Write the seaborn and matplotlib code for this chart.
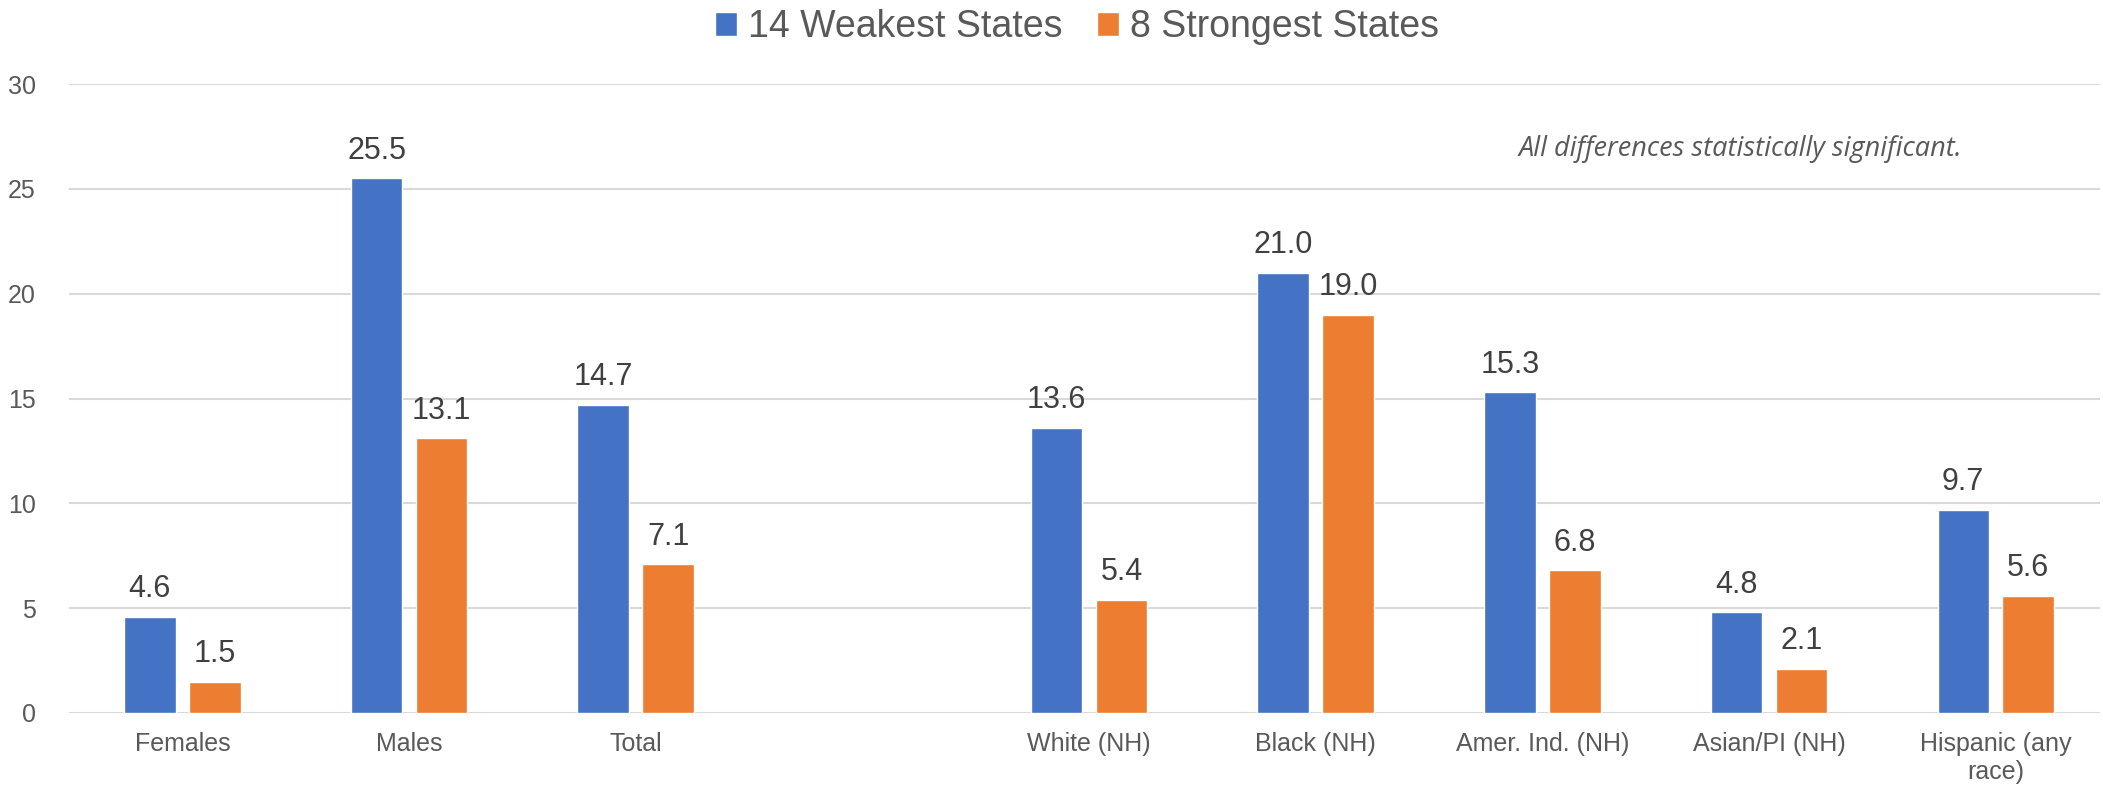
import numpy as np
import pandas as pd
import matplotlib
matplotlib.use("Agg")
import matplotlib.pyplot as plt
import seaborn as sns

# data
categories = ["Females", "Males", "Total", " ", "White (NH)", "Black (NH)",
              "Amer. Ind. (NH)", "Asian/PI (NH)", "Hispanic (any\nrace)"]
data_categories = ["Females", "Males", "Total", "White (NH)", "Black (NH)",
                   "Amer. Ind. (NH)", "Asian/PI (NH)", "Hispanic (any\nrace)"]
weakest = [4.6, 25.5, 14.7, 13.6, 21.0, 15.3, 4.8, 9.7]
strongest = [1.5, 13.1, 7.1, 5.4, 19.0, 6.8, 2.1, 5.6]
series = ["14 Weakest States", "8 Strongest States"]
colors = ["#4472C4", "#ED7D31"]

df = pd.DataFrame({
    "category": data_categories * 2,
    "value": weakest + strongest,
    "series": [series[0]] * len(weakest) + [series[1]] * len(strongest),
})

sns.set_style("white")
plt.rcParams["font.family"] = ["Liberation Sans", "DejaVu Sans"]

W, H = 2103, 788
fig = plt.figure(figsize=(W / 100, H / 100), dpi=100)
ax = fig.add_axes([69 / W, 1 - 713 / H, (2100 - 69) / W, (713 - 84) / H])

sns.barplot(data=df, x="category", y="value", hue="series", order=categories,
            hue_order=series, palette=colors, width=0.5734, gap=0.208,
            saturation=1, ax=ax, legend=True)

for cont in ax.containers:
    ax.bar_label(cont, fmt="%.1f", padding=9, fontsize=22, color="#404040")

ax.set_ylim(0, 30)
ax.set_xlim(-0.5, 8.46)
ax.set_yticks(np.arange(0, 31, 5))
ax.yaxis.grid(True, color="#D9D9D9", linewidth=1.5)
ax.set_axisbelow(True)
for s in ax.spines.values():
    s.set_visible(False)
ax.tick_params(axis="both", length=0, labelsize=18, labelcolor="#595959")
ax.tick_params(axis="x", pad=14)
ax.tick_params(axis="y", pad=24)
ax.set_xlabel("")
ax.set_ylabel("")

handles, labels = ax.get_legend_handles_labels()
ax.get_legend().remove()
fig.legend(handles, labels, loc="center", bbox_to_anchor=(1077 / W, 1 - 27 / H),
           ncol=2, frameon=False, fontsize=27, labelcolor="#595959",
           handlelength=0.6, handleheight=0.6, handletextpad=0.3,
           columnspacing=0.9, borderaxespad=0)

fig.text(1740 / W, 1 - 149 / H, "All differences statistically significant.",
         ha="center", va="center", fontsize=19.5, style="italic",
         color="#595959", family=["Open Sans", "DejaVu Sans"])

fig.savefig("out.png", dpi=100)
